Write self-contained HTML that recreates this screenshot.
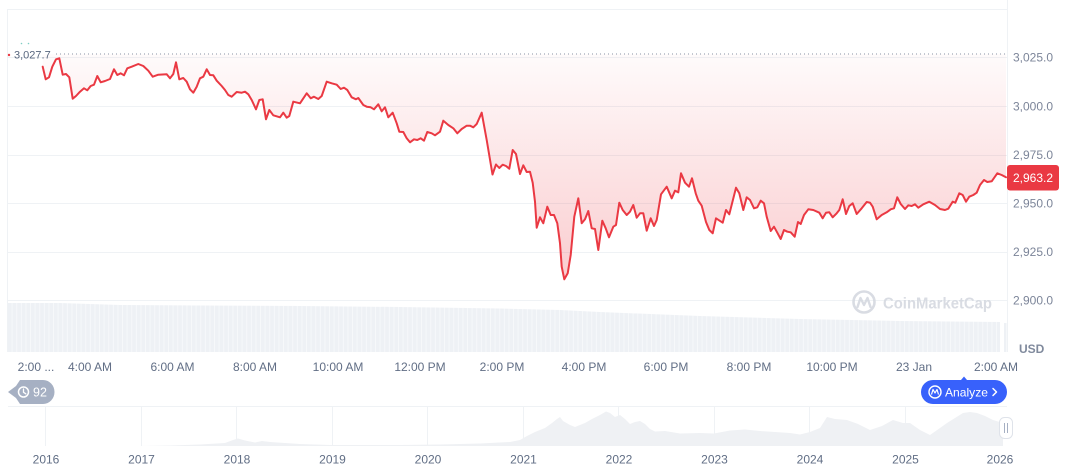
<!DOCTYPE html>
<html><head><meta charset="utf-8">
<style>
html,body{margin:0;padding:0;background:#fff;}
body{width:1072px;height:470px;overflow:hidden;font-family:"Liberation Sans",sans-serif;}
svg{display:block;}
</style></head>
<body>
<svg width="1072" height="470" viewBox="0 0 1072 470" xmlns="http://www.w3.org/2000/svg" font-family="Liberation Sans, sans-serif">
<defs>
<linearGradient id="fillg" x1="0" y1="54" x2="0" y2="285" gradientUnits="userSpaceOnUse">
<stop offset="0" stop-color="#ea3943" stop-opacity="0.02"/>
<stop offset="1" stop-color="#ea3943" stop-opacity="0.26"/>
</linearGradient>
<pattern id="vstripe" x="8" y="0" width="4.6" height="10" patternUnits="userSpaceOnUse">
<rect x="0" y="0" width="3.8" height="10" fill="#eef1f5"/>
<rect x="3.8" y="0" width="0.8" height="10" fill="#f6f8fa"/>
</pattern>
</defs>

<!-- frame lines -->
<line x1="8" y1="9.5" x2="1007" y2="9.5" stroke="#eff2f5" stroke-width="1"/>
<line x1="7.5" y1="9" x2="7.5" y2="352" stroke="#eff2f5" stroke-width="1"/>
<line x1="1007.5" y1="0" x2="1007.5" y2="352" stroke="#eff2f5" stroke-width="1"/>

<!-- gridlines -->
<g stroke="#eff2f5" stroke-width="1">
<line x1="8" y1="57.5" x2="1007" y2="57.5"/>
<line x1="8" y1="106.5" x2="1007" y2="106.5"/>
<line x1="8" y1="155.5" x2="1007" y2="155.5"/>
<line x1="8" y1="203.5" x2="1007" y2="203.5"/>
<line x1="8" y1="252.5" x2="1007" y2="252.5"/>
<line x1="8" y1="300.5" x2="1007" y2="300.5"/>
</g>

<!-- volume -->
<polygon points="8,303 60,303 120,305 200,305.5 300,306 400,307 500,308.5 560,310 600,312 700,316 800,319 900,321 1000,322 1000,352 8,352" fill="url(#vstripe)"/>
<rect x="1004" y="323" width="2.5" height="29" fill="#eef1f5"/>

<!-- watermark -->
<g opacity="0.9">
<circle cx="864" cy="302" r="10.5" fill="none" stroke="#d5d9e0" stroke-width="2.6"/>
<path d="M857.5,307 L860.5,298 L864,305 L867.5,298 L870.5,307" fill="none" stroke="#d5d9e0" stroke-width="2.4" stroke-linejoin="round" stroke-linecap="round"/>
<text x="883" y="308.5" font-size="16" font-weight="bold" fill="#d5d9e0" textLength="109" lengthAdjust="spacingAndGlyphs">CoinMarketCap</text>
</g>

<!-- area fill -->
<polygon fill="url(#fillg)" points="42.7,54 42.7,66.7 45.7,79.3 49,77.3 52.3,66.7 56,59.3 59.3,58.3 62.7,74.7 66,74 69.3,77.3 72.7,98.7 76,96 80,91.7 84,88.3 87.3,90.3 90.7,86 94,84.7 97.3,76 100.7,82.3 105,81 110,79 114,69.3 117.3,75 120.7,73.3 124,75.3 127.3,68.3 131.7,66.7 138.3,64 143.3,66 148.3,70.7 152.7,76.7 158.3,74.7 166.7,74.3 170,78.3 173.3,74 176,62.3 179.3,79.3 183.3,78 186.7,81.7 190,89.3 193.3,92.7 196.7,86.7 200,78.3 203.3,76.7 206.7,69.3 210,75 213.3,75.3 216.7,80.7 221.7,86 225,90 228.3,95 231.7,96.7 236.7,92 241.7,92.7 245,91.7 248.3,94.3 251.7,100 256,109.3 259.3,100 262.7,99.3 266,119.3 269.3,110 273.3,115.3 280,117.3 283.3,112.7 286.7,117.7 289.3,116 293.3,101.7 300,103.3 306.7,93.3 310.7,98.3 314,96.7 318.3,99 321.7,96 326.7,81.7 331.7,83.3 336.7,84.7 340.7,89 344,87.7 347.3,90 351.7,97.3 356,99.3 358.3,98 363.3,105 366.7,106.7 370.7,107.3 374,109.3 378.3,104.3 381.7,111.3 385,107.3 388.3,117.3 392.7,112.7 396.7,123.3 399.3,131.7 403.3,132 406.7,138.3 410,142.3 414,139.3 417.3,140 420.7,138.3 424,140.7 427.3,132 431.7,133.3 435,135.3 440,131.7 443.3,120.7 448.3,125 453.3,128.3 457.3,133.3 461.7,129 466.7,125.7 470,125.7 473.3,127.3 476.7,124 481.7,112.7 486.7,140 492.5,174.5 496,164.5 499.3,168 502.7,164.7 506,166 509.3,168.7 512.7,150 516,154 520,174 523.3,165.3 526.7,172 530,171.7 532.7,182.7 535,201.7 536.7,227.7 540,217.3 543.3,223.3 547.3,206.7 550.7,215 554,215 557.3,223.3 560,243.3 561.7,266.7 564.3,279.3 567.7,273.3 570.7,255 574.3,216.7 578.3,198.3 581.7,223.3 585,219.3 588.3,211 591.7,228.3 595,229 598.3,250 602.3,220.7 605.7,228.3 609,237.3 613.3,226.7 616,225 619.3,202.7 622.7,210 626.7,215 630,211.7 633.3,205 636.7,217.7 640,213.3 643.3,213.3 646.7,230.7 650.7,218.3 654,226 656.7,220 661,194.3 666.7,186.7 671.7,198.3 675,190.7 678.3,192.3 681,173.3 685,182.7 689,186.7 692,178.3 695.7,193.3 698.3,200.7 701.7,205.7 706,222 709.3,230 712.7,233.3 716,218.3 722.7,222.7 726,210 729.3,214.3 736,187.7 739.3,193.3 743.3,210 746.7,197.3 750,200 754,208.3 757.3,207.3 760.7,200.7 764,203.3 766.7,216.7 770.7,231 774,226.7 777.3,232.7 780.7,239 784,230 787.3,231.7 790.7,232.3 794.7,236.7 798,222 800.7,224 804,215 808.3,209.3 813.3,210 819.3,212.7 822.7,218.3 826,212.7 829.3,212.3 832.7,217.3 836.7,213.3 839.3,210 842.7,199.3 846,214 849.3,206 852.7,203.3 856.7,214 861.7,208.3 866.7,202 870,202.7 872.7,206.7 876.7,219.3 881.7,215 886.7,212.3 890.7,209.3 894,208.3 897.3,197.3 900.7,204 905,209 908.3,205.3 911.7,206 915,204.3 918.3,207.7 923.3,204.3 929.3,201.7 935,205 940,209 945,210 948.3,208.7 952.7,201.7 955.3,202.7 959.3,193.3 962.7,195 966,201.7 969.3,196.7 973.3,195 976.7,192.7 980,185 984,180 987.3,182 991.7,181.3 997.3,173.3 1001.7,175 1006,177.3 1006,54"/>

<!-- reference dotted line -->
<line x1="56" y1="54" x2="1006" y2="54" stroke="#8a93a6" stroke-width="1" stroke-dasharray="1,3"/>
<circle cx="9" cy="55" r="1.2" fill="#ea3943"/>
<text x="14" y="58.5" font-size="11" fill="#58667e">3,027.7</text>
<circle cx="21.5" cy="43.5" r="0.8" fill="#7fcfc4"/>
<circle cx="28.5" cy="43.5" r="0.8" fill="#7fcfc4"/>

<!-- price line -->
<polyline fill="none" stroke="#ea3943" stroke-width="2" stroke-linejoin="round" stroke-linecap="round" points="42.7,66.7 45.7,79.3 49,77.3 52.3,66.7 56,59.3 59.3,58.3 62.7,74.7 66,74 69.3,77.3 72.7,98.7 76,96 80,91.7 84,88.3 87.3,90.3 90.7,86 94,84.7 97.3,76 100.7,82.3 105,81 110,79 114,69.3 117.3,75 120.7,73.3 124,75.3 127.3,68.3 131.7,66.7 138.3,64 143.3,66 148.3,70.7 152.7,76.7 158.3,74.7 166.7,74.3 170,78.3 173.3,74 176,62.3 179.3,79.3 183.3,78 186.7,81.7 190,89.3 193.3,92.7 196.7,86.7 200,78.3 203.3,76.7 206.7,69.3 210,75 213.3,75.3 216.7,80.7 221.7,86 225,90 228.3,95 231.7,96.7 236.7,92 241.7,92.7 245,91.7 248.3,94.3 251.7,100 256,109.3 259.3,100 262.7,99.3 266,119.3 269.3,110 273.3,115.3 280,117.3 283.3,112.7 286.7,117.7 289.3,116 293.3,101.7 300,103.3 306.7,93.3 310.7,98.3 314,96.7 318.3,99 321.7,96 326.7,81.7 331.7,83.3 336.7,84.7 340.7,89 344,87.7 347.3,90 351.7,97.3 356,99.3 358.3,98 363.3,105 366.7,106.7 370.7,107.3 374,109.3 378.3,104.3 381.7,111.3 385,107.3 388.3,117.3 392.7,112.7 396.7,123.3 399.3,131.7 403.3,132 406.7,138.3 410,142.3 414,139.3 417.3,140 420.7,138.3 424,140.7 427.3,132 431.7,133.3 435,135.3 440,131.7 443.3,120.7 448.3,125 453.3,128.3 457.3,133.3 461.7,129 466.7,125.7 470,125.7 473.3,127.3 476.7,124 481.7,112.7 486.7,140 492.5,174.5 496,164.5 499.3,168 502.7,164.7 506,166 509.3,168.7 512.7,150 516,154 520,174 523.3,165.3 526.7,172 530,171.7 532.7,182.7 535,201.7 536.7,227.7 540,217.3 543.3,223.3 547.3,206.7 550.7,215 554,215 557.3,223.3 560,243.3 561.7,266.7 564.3,279.3 567.7,273.3 570.7,255 574.3,216.7 578.3,198.3 581.7,223.3 585,219.3 588.3,211 591.7,228.3 595,229 598.3,250 602.3,220.7 605.7,228.3 609,237.3 613.3,226.7 616,225 619.3,202.7 622.7,210 626.7,215 630,211.7 633.3,205 636.7,217.7 640,213.3 643.3,213.3 646.7,230.7 650.7,218.3 654,226 656.7,220 661,194.3 666.7,186.7 671.7,198.3 675,190.7 678.3,192.3 681,173.3 685,182.7 689,186.7 692,178.3 695.7,193.3 698.3,200.7 701.7,205.7 706,222 709.3,230 712.7,233.3 716,218.3 722.7,222.7 726,210 729.3,214.3 736,187.7 739.3,193.3 743.3,210 746.7,197.3 750,200 754,208.3 757.3,207.3 760.7,200.7 764,203.3 766.7,216.7 770.7,231 774,226.7 777.3,232.7 780.7,239 784,230 787.3,231.7 790.7,232.3 794.7,236.7 798,222 800.7,224 804,215 808.3,209.3 813.3,210 819.3,212.7 822.7,218.3 826,212.7 829.3,212.3 832.7,217.3 836.7,213.3 839.3,210 842.7,199.3 846,214 849.3,206 852.7,203.3 856.7,214 861.7,208.3 866.7,202 870,202.7 872.7,206.7 876.7,219.3 881.7,215 886.7,212.3 890.7,209.3 894,208.3 897.3,197.3 900.7,204 905,209 908.3,205.3 911.7,206 915,204.3 918.3,207.7 923.3,204.3 929.3,201.7 935,205 940,209 945,210 948.3,208.7 952.7,201.7 955.3,202.7 959.3,193.3 962.7,195 966,201.7 969.3,196.7 973.3,195 976.7,192.7 980,185 984,180 987.3,182 991.7,181.3 997.3,173.3 1001.7,175 1006,177.3"/>

<!-- y-axis labels -->
<g font-size="12" fill="#7c8599">
<text x="1013" y="61.5">3,025.0</text>
<text x="1013" y="110.5">3,000.0</text>
<text x="1013" y="159">2,975.0</text>
<text x="1013" y="207.5">2,950.0</text>
<text x="1013" y="256">2,925.0</text>
<text x="1013" y="304.5">2,900.0</text>
</g>
<rect x="1007" y="165" width="52" height="25.5" rx="3" fill="#ea3943"/>
<text x="1013" y="182" font-size="12" fill="#ffffff">2,963.2</text>
<text x="1019" y="353" font-size="12" font-weight="bold" fill="#808a9d">USD</text>

<!-- x-axis labels -->
<g font-size="12" fill="#616e85" text-anchor="middle">
<text x="36" y="371">2:00 ...</text>
<text x="90" y="371">4:00 AM</text>
<text x="172.5" y="371">6:00 AM</text>
<text x="255" y="371">8:00 AM</text>
<text x="338" y="371">10:00 AM</text>
<text x="420" y="371">12:00 PM</text>
<text x="502" y="371">2:00 PM</text>
<text x="584" y="371">4:00 PM</text>
<text x="666" y="371">6:00 PM</text>
<text x="749" y="371">8:00 PM</text>
<text x="832" y="371">10:00 PM</text>
<text x="914" y="371">23 Jan</text>
<text x="996" y="371">2:00 AM</text>
</g>

<!-- history badge -->
<path d="M20,380 H43 A11.5,12 0 0 1 43,404 H20 L16,398 L8,392 L16,386 Z" fill="#a6b0c3"/>
<circle cx="23.5" cy="392" r="5" fill="none" stroke="#fff" stroke-width="1.5"/>
<path d="M23.5,389 V392.3 L25.8,393.8" fill="none" stroke="#fff" stroke-width="1.3" stroke-linecap="round"/>
<text x="33" y="396.5" font-size="12.5" fill="#ffffff">92</text>

<!-- Analyze button -->
<path d="M933,380 H961 L964,376.5 L967,380 H995 A12,12 0 0 1 995,404 H933 A12,12 0 0 1 933,380 Z" fill="#3861fb"/>
<circle cx="935" cy="392" r="6" fill="none" stroke="#fff" stroke-width="1.4"/>
<path d="M931.5,394.5 L933,389.5 L935,393 L937,389.5 L938.5,394.5" fill="none" stroke="#fff" stroke-width="1.2" stroke-linejoin="round"/>
<text x="945" y="396.5" font-size="12" fill="#ffffff" textLength="43" lengthAdjust="spacingAndGlyphs">Analyze</text>
<path d="M993,388.5 L996.5,392 L993,395.5" fill="none" stroke="#fff" stroke-width="1.5" stroke-linecap="round" stroke-linejoin="round"/>

<!-- navigator -->
<line x1="8" y1="406.5" x2="1007" y2="406.5" stroke="#eff2f5" stroke-width="1"/>
<g stroke="#eff2f5" stroke-width="1">
<line x1="45.5" y1="407" x2="45.5" y2="446"/>
<line x1="141.5" y1="407" x2="141.5" y2="446"/>
<line x1="236.5" y1="407" x2="236.5" y2="446"/>
<line x1="332.5" y1="407" x2="332.5" y2="446"/>
<line x1="427.5" y1="407" x2="427.5" y2="446"/>
<line x1="523.5" y1="407" x2="523.5" y2="446"/>
<line x1="618.5" y1="407" x2="618.5" y2="446"/>
<line x1="714.5" y1="407" x2="714.5" y2="446"/>
<line x1="809.5" y1="407" x2="809.5" y2="446"/>
<line x1="905.5" y1="407" x2="905.5" y2="446"/>
</g>
<polygon fill="#eff1f4" points="8,446 140,446 170,445.5 200,444.5 225,443 233,440 238,438.5 245,440.5 255,442.5 262,441 270,442 300,444 330,445 400,445 440,444.5 480,443.5 510,442 520,440 527,436 535,432 545,428 552,423 557,419 560,417 563,421 570,425 575,427 585,423 592,419 600,415 606,411.5 610,413 615,417 620,415 625,419 630,424 635,422 640,421 645,424 650,429 655,431.5 665,431 680,433.5 700,433 714,433.5 730,430.5 745,429.5 760,431 775,432 790,433 800,434.5 810,432 820,428 827,417 835,419 847,420 858,424 870,430 882,426 893,420 903,423 910,423 920,430 930,435 940,428 947,423 955,418 963,413 970,412 977,413 985,416 993,420 1003,423 1003,446"/>
<rect x="999.5" y="417.5" width="13" height="21" rx="5" fill="#ffffff" stroke="#dfe3ea" stroke-width="1"/>
<line x1="1004.5" y1="423" x2="1004.5" y2="433" stroke="#a6b0c3" stroke-width="1"/>
<line x1="1007.5" y1="423" x2="1007.5" y2="433" stroke="#a6b0c3" stroke-width="1"/>

<g font-size="12" fill="#616e85" text-anchor="middle">
<text x="46" y="463.5">2016</text>
<text x="141.5" y="463.5">2017</text>
<text x="237" y="463.5">2018</text>
<text x="332.5" y="463.5">2019</text>
<text x="428" y="463.5">2020</text>
<text x="523.5" y="463.5">2021</text>
<text x="619" y="463.5">2022</text>
<text x="714.5" y="463.5">2023</text>
<text x="810" y="463.5">2024</text>
<text x="905.5" y="463.5">2025</text>
<text x="1000" y="463.5">2026</text>
</g>
</svg>
</body></html>
